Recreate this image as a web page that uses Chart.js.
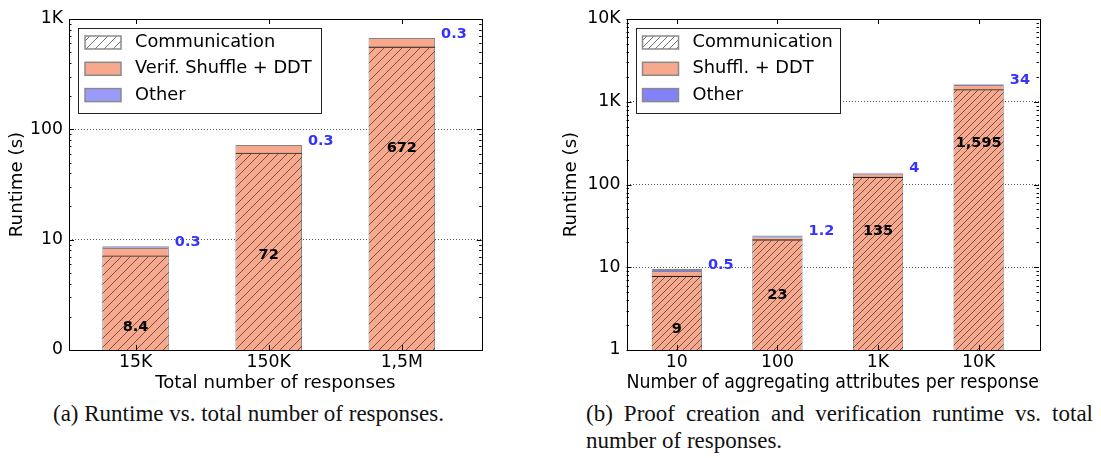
<!DOCTYPE html>
<html>
<head>
<meta charset="utf-8">
<script src="https://cdn.jsdelivr.net/npm/chart.js@4.4.1/dist/chart.umd.min.js"></script>
<style>
  body { margin: 0; background: #fff; width: 1101px; height: 458px; position: relative; overflow: hidden; }
  canvas { position: absolute; top: 0; }
  #chartA { left: 0; }
  #chartB { left: 550px; }
  .cap { position: absolute; font-family: "Liberation Serif", serif; font-size: 23px; color: #111; white-space: nowrap; line-height: 27px; }
  #capA { left: 53px; top: 400px; }
  #capB { left: 586px; top: 400px; width: 507px; }
  #capB .l1 { text-align: justify; text-align-last: justify; }
</style>
</head>
<body>
<canvas id="chartA" width="550" height="400"></canvas>
<canvas id="chartB" width="551" height="400"></canvas>
<div class="cap" id="capA">(a) Runtime vs. total number of responses.</div>
<div class="cap" id="capB"><div class="l1">(b) Proof creation and verification runtime vs. total</div><div>number of responses.</div></div>

<script>
/* DATOS */
const catsA = ["15K", "150K", "1,5M"]
const commA = [7.2, 61.5, 563]
const shuffleA = [8.4, 72, 672]
const otherA = [0.3, 0.3, 0.3]
const yLabelsA = ["0", "10", "100", "1K"]

const catsB = ["10", "100", "1K", "10K"]
const commB = [7.9, 21.8, 124, 1420]
const shuffleB = [9, 23, 135, 1595]
const otherB = [0.5, 1.2, 4, 34]
const yLabelsB = ["1", "10", "100", "1K", "10K"]

const FONT = "DejaVu Sans"
const SALMON = "#f8a88c"

/* FUNCIONES */
function hatch(ctx, step, bg) {
    const c = document.createElement("canvas")
    c.width = step
    c.height = step
    const g = c.getContext("2d")
    if (bg) { g.fillStyle = bg; g.fillRect(0, 0, step, step) }
    g.strokeStyle = "rgba(45,45,45,0.85)"
    g.lineWidth = 0.8
    g.beginPath()
    g.moveTo(0, step); g.lineTo(step, 0)
    g.moveTo(-1, 1); g.lineTo(1, -1)
    g.moveTo(step - 1, step + 1); g.lineTo(step + 1, step - 1)
    g.stroke()
    return ctx.createPattern(c, "repeat")
}

function logTicks(max) {
    const out = []
    for (let d = 1; d < max; d *= 10)
        for (let k = 1; k < 10; k++) out.push({ value: k * d })
    out.push({ value: max })
    return out
}

const isPow10 = v => Math.abs(Math.log10(v) - Math.round(Math.log10(v))) < 1e-9

// ticks hacia dentro, marco, etiquetas y leyenda
const decor = {
    id: "decor",
    afterDatasetsDraw(chart, args, o) {
        const { ctx, chartArea: a, scales: { x, y } } = chart
        ctx.save()
        ctx.strokeStyle = "#000"
        ctx.lineWidth = 1
        ctx.beginPath()
        y.ticks.forEach(t => {
            const py = Math.round(y.getPixelForValue(t.value)) + 0.5
            const len = isPow10(t.value) ? 5 : 2.5
            ctx.moveTo(a.left, py); ctx.lineTo(a.left + len, py)
            ctx.moveTo(a.right, py); ctx.lineTo(a.right - len, py)
        })
        x.ticks.forEach(t => {
            const px = Math.round(x.getPixelForValue(t.value)) + 0.5
            ctx.moveTo(px, a.bottom); ctx.lineTo(px, a.bottom - 5)
            ctx.moveTo(px, a.top); ctx.lineTo(px, a.top + 5)
        })
        ctx.stroke()
        ctx.strokeRect(Math.round(a.left) + 0.5, Math.round(a.top) + 0.5, Math.round(a.width), Math.round(a.height))

        // etiquetas
        const shuffle = chart.data.datasets[1].data
        const other = chart.data.datasets[2].data
        const bars = chart.getDatasetMeta(1).data
        ctx.font = "bold 14.5px '" + FONT + "'"
        ctx.textBaseline = "middle"
        bars.forEach((bar, i) => {
            const v = shuffle[i].y
            const py = y.getPixelForValue(Math.max(v / o.div, 1.6))
            ctx.fillStyle = "#000"
            ctx.textAlign = "center"
            ctx.fillText(v.toLocaleString("en-US"), bar.x, py)
            const top = y.getPixelForValue(v + other[i].y)
            ctx.fillStyle = "#3333ff"
            ctx.textAlign = "left"
            ctx.fillText(String(other[i].y), bar.x + bar.width / 2 + 6, top - 4)
        })
        ctx.restore()
    },
    afterDraw(chart, args, o) {
        const { ctx, chartArea: a } = chart
        const lx = a.left + 9, ly = a.top + 9
        ctx.save()
        ctx.fillStyle = "#fff"
        ctx.fillRect(lx, ly, o.legendWidth, 85)
        ctx.strokeStyle = "#222"
        ctx.lineWidth = 1
        ctx.strokeRect(Math.round(lx) + 0.5, Math.round(ly) + 0.5, o.legendWidth, 85)
        ctx.font = "17.8px '" + FONT + "'"
        ctx.textBaseline = "middle"
        ctx.textAlign = "left"
        chart.data.datasets.forEach((ds, i) => {
            const cy = ly + 14.5 + i * 26.3
            ctx.fillStyle = ds.legendFill || ds.backgroundColor
            ctx.fillRect(lx + 7, cy - 6.5, 36, 13)
            ctx.strokeStyle = "#8a8a8a"
            ctx.lineWidth = 1.5
            ctx.strokeRect(lx + 7, cy - 6.5, 36, 13)
            ctx.fillStyle = "#000"
            ctx.fillText(ds.label, lx + 57, cy)
        })
        ctx.restore()
    }
}

function drawChart(id, o) {
    const ctx = document.getElementById(id).getContext("2d")
    const pts = arr => arr.map((v, i) => ({ x: i, y: v }))
    const common = { grouped: false, barPercentage: 0.5, categoryPercentage: 1 }
    const edge = "rgba(110,110,110,0.85)"

    new Chart(ctx, {
        type: "bar",
        data: {
            datasets: [
                { ...common, label: "Communication", data: pts(o.comm), stack: "c", order: 0,
                  backgroundColor: hatch(ctx, o.step, null), legendFill: hatch(ctx, o.step, "#fff"),
                  borderColor: "#222", borderWidth: { top: 1.2, left: 0, right: 0, bottom: 0 }, borderSkipped: false },
                { ...common, label: o.shuffleName, data: pts(o.shuffle), stack: "s", order: 1,
                  backgroundColor: SALMON, borderColor: edge, borderWidth: 1 },
                { ...common, label: "Other", data: pts(o.other), stack: "s", order: 1,
                  backgroundColor: o.blue, borderColor: edge, borderWidth: 1 }
            ]
        },
        options: {
            responsive: false,
            animation: false,
            layout: { padding: { left: 0, right: o.padRight, top: 19, bottom: 0 } },
            plugins: {
                legend: { display: false },
                tooltip: { enabled: false },
                decor: { div: o.div, legendWidth: o.legendWidth }
            },
            scales: {
                x: {
                    type: "linear",
                    offset: false,
                    min: -0.5,
                    max: o.cats.length - 0.4,
                    afterBuildTicks: s => { s.ticks = o.cats.map((c, i) => ({ value: i })) },
                    afterFit: s => { s.height = 50 },
                    ticks: { autoSkip: false, maxRotation: 0, padding: 2, color: "#000",
                             font: { family: FONT, size: 17.3 }, callback: v => o.cats[Math.round(v)] },
                    grid: { display: false, drawTicks: false, offset: false },
                    border: { display: false },
                    title: { display: true, text: o.xTitle, color: "#000",
                             font: { family: FONT, size: o.xTitleSize }, padding: { top: 0, bottom: 6 } }
                },
                y: {
                    type: "logarithmic",
                    stacked: true,
                    min: 1,
                    max: o.yMax,
                    afterBuildTicks: s => { s.ticks = logTicks(o.yMax) },
                    afterFit: s => { s.width = o.yWidth },
                    ticks: { autoSkip: false, padding: 6, color: "#000", font: { family: FONT, size: 17.3 },
                             callback: v => isPow10(v) ? o.yLabels[Math.round(Math.log10(v))] : "" },
                    grid: {
                        drawTicks: false,
                        color: c => (c.tick && isPow10(c.tick.value) && c.tick.value > 1 && c.tick.value < o.yMax)
                            ? "rgba(0,0,0,0.65)" : "rgba(0,0,0,0)"
                    },
                    border: { display: false, dash: [1, 2] },
                    title: { display: true, text: "Runtime (s)", color: "#000",
                             font: { family: FONT, size: 18.2 }, padding: { top: o.titlePad, bottom: 0 } }
                }
            }
        },
        plugins: [decor]
    })
}

/* GRAFICOS */
drawChart("chartA", {
    cats: catsA, comm: commA, shuffle: shuffleA, other: otherA, yLabels: yLabelsA,
    yMax: 1000, shuffleName: "Verif. Shuffle + DDT", blue: "#9a9af8",
    xTitle: "Total number of responses", xTitleSize: 18.2,
    yWidth: 69, padRight: 68.3, titlePad: 6, div: 10, step: 9, legendWidth: 243
})

drawChart("chartB", {
    cats: catsB, comm: commB, shuffle: shuffleB, other: otherB, yLabels: yLabelsB,
    yMax: 10000, shuffleName: "Shuffl. + DDT", blue: "#8282f8",
    xTitle: "Number of aggregating attributes per response", xTitleSize: 18.9,
    yWidth: 76.5, padRight: 62, titlePad: 10, div: 5, step: 7, legendWidth: 204
})
</script>
</body>
</html>
